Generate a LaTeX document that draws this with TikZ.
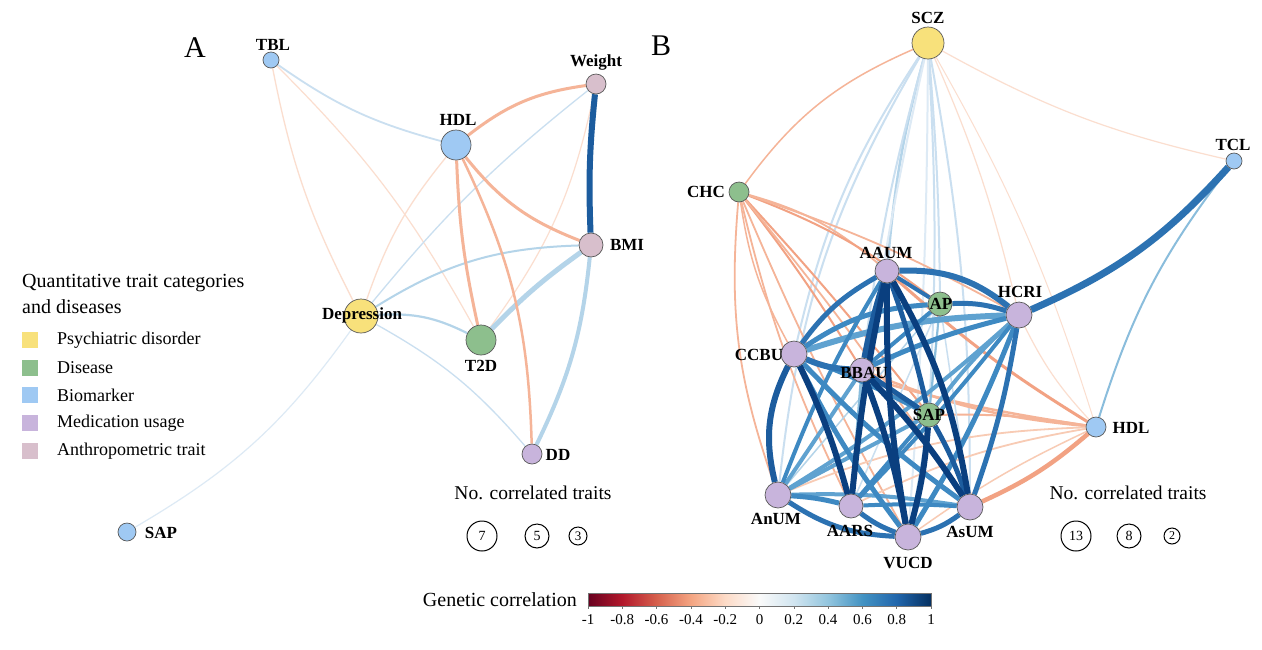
\documentclass[tikz,border=0pt]{standalone}
\usepackage{fontspec}
\setmainfont{Liberation Serif}
\pgfdeclarelayer{back}
\pgfdeclarelayer{edges}
\pgfsetlayers{back,edges,main}
% node fills
\definecolor{yel}{HTML}{F8E17B}
\definecolor{grn}{HTML}{8DBF8D}
\definecolor{blu}{HTML}{9FC9F3}
\definecolor{pur}{HTML}{C8B4DC}
\definecolor{pnk}{HTML}{D8BFCC}
% edge colours (RdBu-like)
\definecolor{k9}{HTML}{0A3F7F}
\definecolor{k8}{HTML}{1C5C9E}
\definecolor{k7}{HTML}{2C72B2}
\definecolor{k6}{HTML}{3E89C2}
\definecolor{k5}{HTML}{5FA2D0}
\definecolor{k4}{HTML}{8ABDDC}
\definecolor{k3}{HTML}{B4D4E9}
\definecolor{k2}{HTML}{CADFF0}
\definecolor{k1}{HTML}{DDEAF5}
\definecolor{o4}{HTML}{F2A283}
\definecolor{o3}{HTML}{F5B498}
\definecolor{o2}{HTML}{F8CBB4}
\definecolor{o1}{HTML}{FBDECF}
% colour bar stops
\definecolor{cmA}{HTML}{67001F}
\definecolor{cmB}{HTML}{B2182B}
\definecolor{cmC}{HTML}{D6604D}
\definecolor{cmD}{HTML}{F4A582}
\definecolor{cmE}{HTML}{FDDBC7}
\definecolor{czero}{HTML}{FAFAFA}
\definecolor{cpE}{HTML}{D1E5F0}
\definecolor{cpD}{HTML}{92C5DE}
\definecolor{cpC}{HTML}{4393C3}
\definecolor{cpB}{HTML}{2166AC}
\definecolor{cpA}{HTML}{053061}
\pgfdeclarehorizontalshading{rdbu}{100bp}{color(0bp)=(cmA); color(25bp)=(cmA); color(30bp)=(cmB); color(35bp)=(cmC); color(40bp)=(cmD); color(45bp)=(cmE); color(50bp)=(czero); color(55bp)=(cpE); color(60bp)=(cpD); color(65bp)=(cpC); color(70bp)=(cpB); color(75bp)=(cpA); color(100bp)=(cpA)}
\newcommand\labfont{\bfseries\fontsize{17}{19}\selectfont}
\begin{document}
\begin{tikzpicture}[x=1pt,y=-1pt,
  ed/.style 2 args={draw=#1, line width=#2pt},
  nd/.style={circle, draw=black!65, line width=0.7pt, inner sep=0pt, minimum size=#1},
  lab/.style={font=\labfont, inner sep=0pt},
  legtxt/.style={font=\fontsize{18}{20}\selectfont, inner sep=0pt, anchor=west},
  sq/.style={rectangle, minimum size=16pt, inner sep=0pt},
  cnt/.style={circle, draw=black, line width=1pt, inner sep=0pt, minimum size=#1},
  ttl/.style={font=\fontsize{19.5}{22}\selectfont, inner sep=0pt}
]
\begin{pgfonlayer}{back}
\fill[white] (0,0) rectangle (1262,649);
\end{pgfonlayer}
\useasboundingbox (0,0) rectangle (1262,649);

% ================= Panel A =================
\node[font=\fontsize{30}{30}\selectfont, inner sep=0pt] (letA) at (195,48) {A};
\node[nd=16pt, fill=blu] (tbl) at (271,60) {};
\node[nd=20pt, fill=pnk] (wt) at (596,84) {};
\node[nd=30pt, fill=blu] (hdl) at (456,145) {};
\node[nd=24pt, fill=pnk] (bmi) at (591,245) {};
\node[nd=34pt, fill=yel] (dep) at (361,316) {};
\node[nd=30pt, fill=grn] (t2d) at (481,340) {};
\node[nd=20pt, fill=pur] (dd) at (532,454) {};
\node[nd=18pt, fill=blu] (sapA) at (127,532) {};

\node[lab] (ltbl) at (273,45) {TBL};
\node[lab] (lwt) at (596,62) {Weight};
\node[lab] (lhdl) at (458,120) {HDL};
\node[lab] (lbmi) at (627,245) {BMI};
\node[lab] (ldep) at (362,315) {Depression};
\node[lab] (lt2d) at (481,366) {T2D};
\node[lab] (ldd) at (558,455) {DD};
\node[lab] (lsapA) at (161,533) {SAP};

\begin{pgfonlayer}{edges}
\draw[ed={o1}{1.2}] (tbl) to[bend left=8] (t2d);
\draw[ed={o1}{1.3}] (tbl) to[bend right=8] (dep);
\draw[ed={k1}{1.2}] (dep) to[bend left=12] (sapA);
\draw[ed={k2}{1.3}] (dep) to[bend left=10] (dd);
\draw[ed={o1}{1.2}] (wt) to[bend left=12] (t2d);
\draw[ed={k2}{1.3}] (wt) to[bend right=6] (dep);
\draw[ed={o1}{1.3}] (hdl) to[bend right=10] (dep);
\draw[ed={k2}{1.8}] (tbl) to[bend right=10] (hdl);
\draw[ed={k3}{2}] (bmi) to[bend right=15] (dep);
\draw[ed={k3}{2.2}] (dep) to[bend left=15] (t2d);
\draw[ed={k3}{5}] (bmi) to[bend right=5] (t2d);
\draw[ed={k3}{4}] (bmi) to[bend left=10] (dd);
\draw[ed={o3}{3}] (hdl) to[bend left=15] (wt);
\draw[ed={o3}{3}] (hdl) to[bend right=15] (bmi);
\draw[ed={o3}{3}] (hdl) to[bend right=5] (t2d);
\draw[ed={o3}{2.5}] (hdl) to[bend left=12] (dd);
\draw[ed={k8}{6}] (wt) to[bend right=4] (bmi);
\end{pgfonlayer}

% legend
\node[inner sep=0pt, anchor=west, font=\fontsize{20}{22}\selectfont] (lgt1) at (22,283) {Quantitative trait categories};
\node[inner sep=0pt, anchor=west, font=\fontsize{20}{22}\selectfont] (lgt2) at (22,307) {and diseases};
\node[sq, fill=yel] (sq1) at (30,340) {};
\node[sq, fill=grn] (sq2) at (30,368) {};
\node[sq, fill=blu] (sq3) at (30,395) {};
\node[sq, fill=pur] (sq4) at (30,423) {};
\node[sq, fill=pnk] (sq5) at (30,451) {};
\node[legtxt] (lg1) at (57,340) {Psychiatric disorder};
\node[legtxt] (lg2) at (57,368) {Disease};
\node[legtxt] (lg3) at (57,395) {Biomarker};
\node[legtxt] (lg4) at (57,423) {Medication usage};
\node[legtxt] (lg5) at (57,451) {Anthropometric trait};

\node[ttl] (ncA) at (533,493) {No. correlated traits};
\node[cnt=30pt, font=\fontsize{14}{14}\selectfont] (cA1) at (482,536) {7};
\node[cnt=24pt, font=\fontsize{14}{14}\selectfont] (cA2) at (537,536) {5};
\node[cnt=18pt, font=\fontsize{13}{13}\selectfont] (cA3) at (578,536) {3};

% ================= Panel B =================
\node[font=\fontsize{30}{30}\selectfont, inner sep=0pt] (letB) at (661,46) {B};
\node[nd=32pt, fill=yel] (scz) at (928,43) {};
\node[nd=16pt, fill=blu] (tcl) at (1234,161) {};
\node[nd=20pt, fill=grn] (chc) at (739,192) {};
\node[nd=24pt, fill=pur] (aaum) at (887,271) {};
\node[nd=24pt, fill=grn] (ap) at (940,304) {};
\node[nd=26pt, fill=pur] (hcri) at (1019,315) {};
\node[nd=26pt, fill=pur] (ccbu) at (794,354) {};
\node[nd=24pt, fill=pur] (bbau) at (862,370) {};
\node[nd=24pt, fill=grn] (sapB) at (929,415) {};
\node[nd=20pt, fill=blu] (hdlB) at (1096,427) {};
\node[nd=26pt, fill=pur] (anum) at (778,495) {};
\node[nd=24pt, fill=pur] (aars) at (851,506) {};
\node[nd=26pt, fill=pur] (vucd) at (908,537) {};
\node[nd=26pt, fill=pur] (asum) at (970,507) {};

\node[lab] (lscz) at (928,18) {SCZ};
\node[lab] (ltcl) at (1233,145) {TCL};
\node[lab] (lchc) at (706,192) {CHC};
\node[lab] (laaum) at (886,253) {AAUM};
\node[lab] (lap) at (941,304) {AP};
\node[lab] (lhcri) at (1020,292) {HCRI};
\node[lab] (lccbu) at (759,355) {CCBU};
\node[lab] (lbbau) at (864,373) {BBAU};
\node[lab] (lsapB) at (929,415) {SAP};
\node[lab] (lhdlB) at (1131,428) {HDL};
\node[lab] (lanum) at (776,519) {AnUM};
\node[lab] (laars) at (850,531) {AARS};
\node[lab] (lvucd) at (908,563) {VUCD};
\node[lab] (lasum) at (970,532) {AsUM};

\begin{pgfonlayer}{edges}
% SCZ
\draw[ed={o3}{1.5}] (scz) to[bend right=15] (chc);
\draw[ed={o1}{1.2}] (scz) to[bend right=8] (tcl);
\draw[ed={o1}{1.2}] (scz) to[bend left=5] (hcri);
\draw[ed={o1}{1}] (scz) to[bend left=6] (hdlB);
\draw[ed={k2}{2}] (scz) to[bend right=10] (ccbu);
\draw[ed={k2}{2}] (scz) to[bend right=12] (anum);
\draw[ed={k3}{2.5}] (scz) to[bend right=5] (aaum);
\draw[ed={k2}{2}] (scz) to[bend right=4] (bbau);
\draw[ed={k1}{2}] (scz) to[bend right=3] (aars);
\draw[ed={k2}{2}] (scz) to[bend left=2] (ap);
\draw[ed={k2}{2}] (scz) to[bend left=3] (sapB);
\draw[ed={k1}{2}] (scz) to[bend left=2] (vucd);
\draw[ed={k2}{2}] (scz) to[bend left=5] (asum);
% CHC
\draw[ed={o3}{1.8}] (chc) to[bend left=12] (aaum);
\draw[ed={o4}{2}] (chc) to[bend left=8] (ap);
\draw[ed={o3}{1.8}] (chc) to[bend left=5] (hcri);
\draw[ed={o3}{1.5}] (chc) to[bend right=10] (ccbu);
\draw[ed={o4}{2}] (chc) to[bend left=3] (bbau);
\draw[ed={o4}{2}] (chc) to[bend left=2] (sapB);
\draw[ed={o3}{1.8}] (chc) to[bend right=12] (anum);
\draw[ed={o3}{1.8}] (chc) to[bend right=6] (aars);
\draw[ed={o3}{1.8}] (chc) to[bend right=3] (vucd);
\draw[ed={o3}{1.8}] (chc) to[bend left=3] (asum);
% HDL (B)
\draw[ed={o1}{1.2}] (hcri) to[bend right=8] (hdlB);
\draw[ed={o4}{3}] (aaum) to[bend right=5] (hdlB);
\draw[ed={o3}{2.5}] (ccbu) to[bend right=5] (hdlB);
\draw[ed={o3}{2.5}] (bbau) to[bend right=8] (hdlB);
\draw[ed={o3}{2}] (sapB) to[bend left=5] (hdlB);
\draw[ed={o2}{1.8}] (anum) to[bend left=10] (hdlB);
\draw[ed={o2}{1.8}] (aars) to[bend left=8] (hdlB);
\draw[ed={o2}{1.5}] (vucd) to[bend left=5] (hdlB);
\draw[ed={o4}{4.5}] (asum) to[bend right=8] (hdlB);
\draw[ed={k4}{2}] (tcl) to[bend right=10] (hdlB);
\draw[ed={k7}{7}] (hcri) to[bend right=12] (tcl);
% cluster, light first
\draw[ed={k3}{1.5}] (ap) to (anum);
\draw[ed={k2}{1.5}] (ap) to (aars);
\draw[ed={k3}{1.5}] (ap) to[bend left=3] (vucd);
\draw[ed={k2}{1.5}] (ap) to (asum);
\draw[ed={k4}{2}] (ap) to (sapB);
\draw[ed={k4}{3}] (bbau) to (aars);
\draw[ed={k5}{4}] (bbau) to (anum);
\draw[ed={k5}{4}] (anum) to[bend left=5] (asum);
\draw[ed={k5}{4}] (anum) to (sapB);
\draw[ed={k5}{4}] (anum) to[bend right=5] (hcri);
\draw[ed={k5}{4}] (sapB) to[bend left=5] (hcri);
\draw[ed={k5}{6}] (ccbu) to[bend left=8] (hcri);
\draw[ed={k6}{4}] (aars) to[bend right=3] (hcri);
\draw[ed={k6}{5}] (bbau) to[bend left=5] (hcri);
\draw[ed={k6}{5}] (vucd) to[bend right=5] (hcri);
\draw[ed={k6}{4}] (ap) to (bbau);
\draw[ed={k6}{5}] (ccbu) to[bend left=15] (ap);
\draw[ed={k6}{5}] (ccbu) to[bend right=5] (vucd);
\draw[ed={k6}{5}] (ccbu) to[bend right=5] (asum);
\draw[ed={k6}{4}] (ccbu) to[bend left=3] (sapB);
\draw[ed={k6}{4}] (aaum) to[bend right=5] (anum);
\draw[ed={k6}{5}] (anum) to[bend left=5] (aars);
\draw[ed={k6}{4}] (aars) to[bend left=3] (asum);
\draw[ed={k6}{4}] (aars) to (sapB);
\draw[ed={k7}{4}] (aaum) to (ap);
\draw[ed={k7}{5}] (asum) to[bend right=5] (hcri);
\draw[ed={k7}{6}] (aaum) to[bend left=20] (hcri);
\draw[ed={k7}{5}] (ap) to[bend left=10] (hcri);
\draw[ed={k7}{5}] (aaum) to[bend right=12] (ccbu);
\draw[ed={k7}{6}] (ccbu) to[bend right=10] (bbau);
\draw[ed={k7}{5}] (anum) to[bend right=15] (vucd);
\draw[ed={k7}{5}] (aars) to[bend right=8] (vucd);
\draw[ed={k7}{5}] (vucd) to[bend right=10] (asum);
\draw[ed={k8}{6}] (ccbu) to[bend right=20] (anum);
\draw[ed={k8}{6}] (aaum) to[bend right=3] (bbau);
\draw[ed={k8}{5}] (aaum) to[bend left=3] (sapB);
\draw[ed={k8}{5}] (bbau) to (sapB);
\draw[ed={k8}{5}] (sapB) to[bend left=5] (asum);
\draw[ed={k9}{6}] (ccbu) to[bend left=5] (aars);
\draw[ed={k9}{6}] (aaum) to[bend right=3] (aars);
\draw[ed={k9}{6}] (aaum) to[bend right=5] (vucd);
\draw[ed={k9}{6}] (aaum) to[bend left=10] (asum);
\draw[ed={k9}{6}] (bbau) to[bend left=5] (vucd);
\draw[ed={k9}{6}] (bbau) to[bend left=5] (asum);
\draw[ed={k9}{6}] (sapB) to[bend left=5] (vucd);
\end{pgfonlayer}

\node[ttl] (ncB) at (1128,493) {No. correlated traits};
\node[cnt=30pt, font=\fontsize{14}{14}\selectfont] (cB1) at (1076,536) {13};
\node[cnt=24pt, font=\fontsize{14}{14}\selectfont] (cB2) at (1129,536) {8};
\node[cnt=16pt, font=\fontsize{12}{12}\selectfont] (cB3) at (1172,536) {2};

% ================= Colour bar =================
\node[inner sep=0pt, anchor=east, font=\fontsize{20}{22}\selectfont] (gcl) at (577,600) {Genetic correlation};
\shade[shading=rdbu] (588,593) rectangle (931,606);
\draw[black!55, line width=0.6pt] (588,593) rectangle (931,606);
\foreach \v [count=\i] in {-1,-0.8,-0.6,-0.4,-0.2,0,0.2,0.4,0.6,0.8,1} {
  \draw[black!55, line width=0.6pt] ({759.5+\v*171.5},606) -- ({759.5+\v*171.5},609);
  \node[inner sep=0pt, font=\fontsize{15}{15}\selectfont] (tk\i) at ({759.5+\v*171.5},620) {\v};
}
\end{tikzpicture}
\end{document}
